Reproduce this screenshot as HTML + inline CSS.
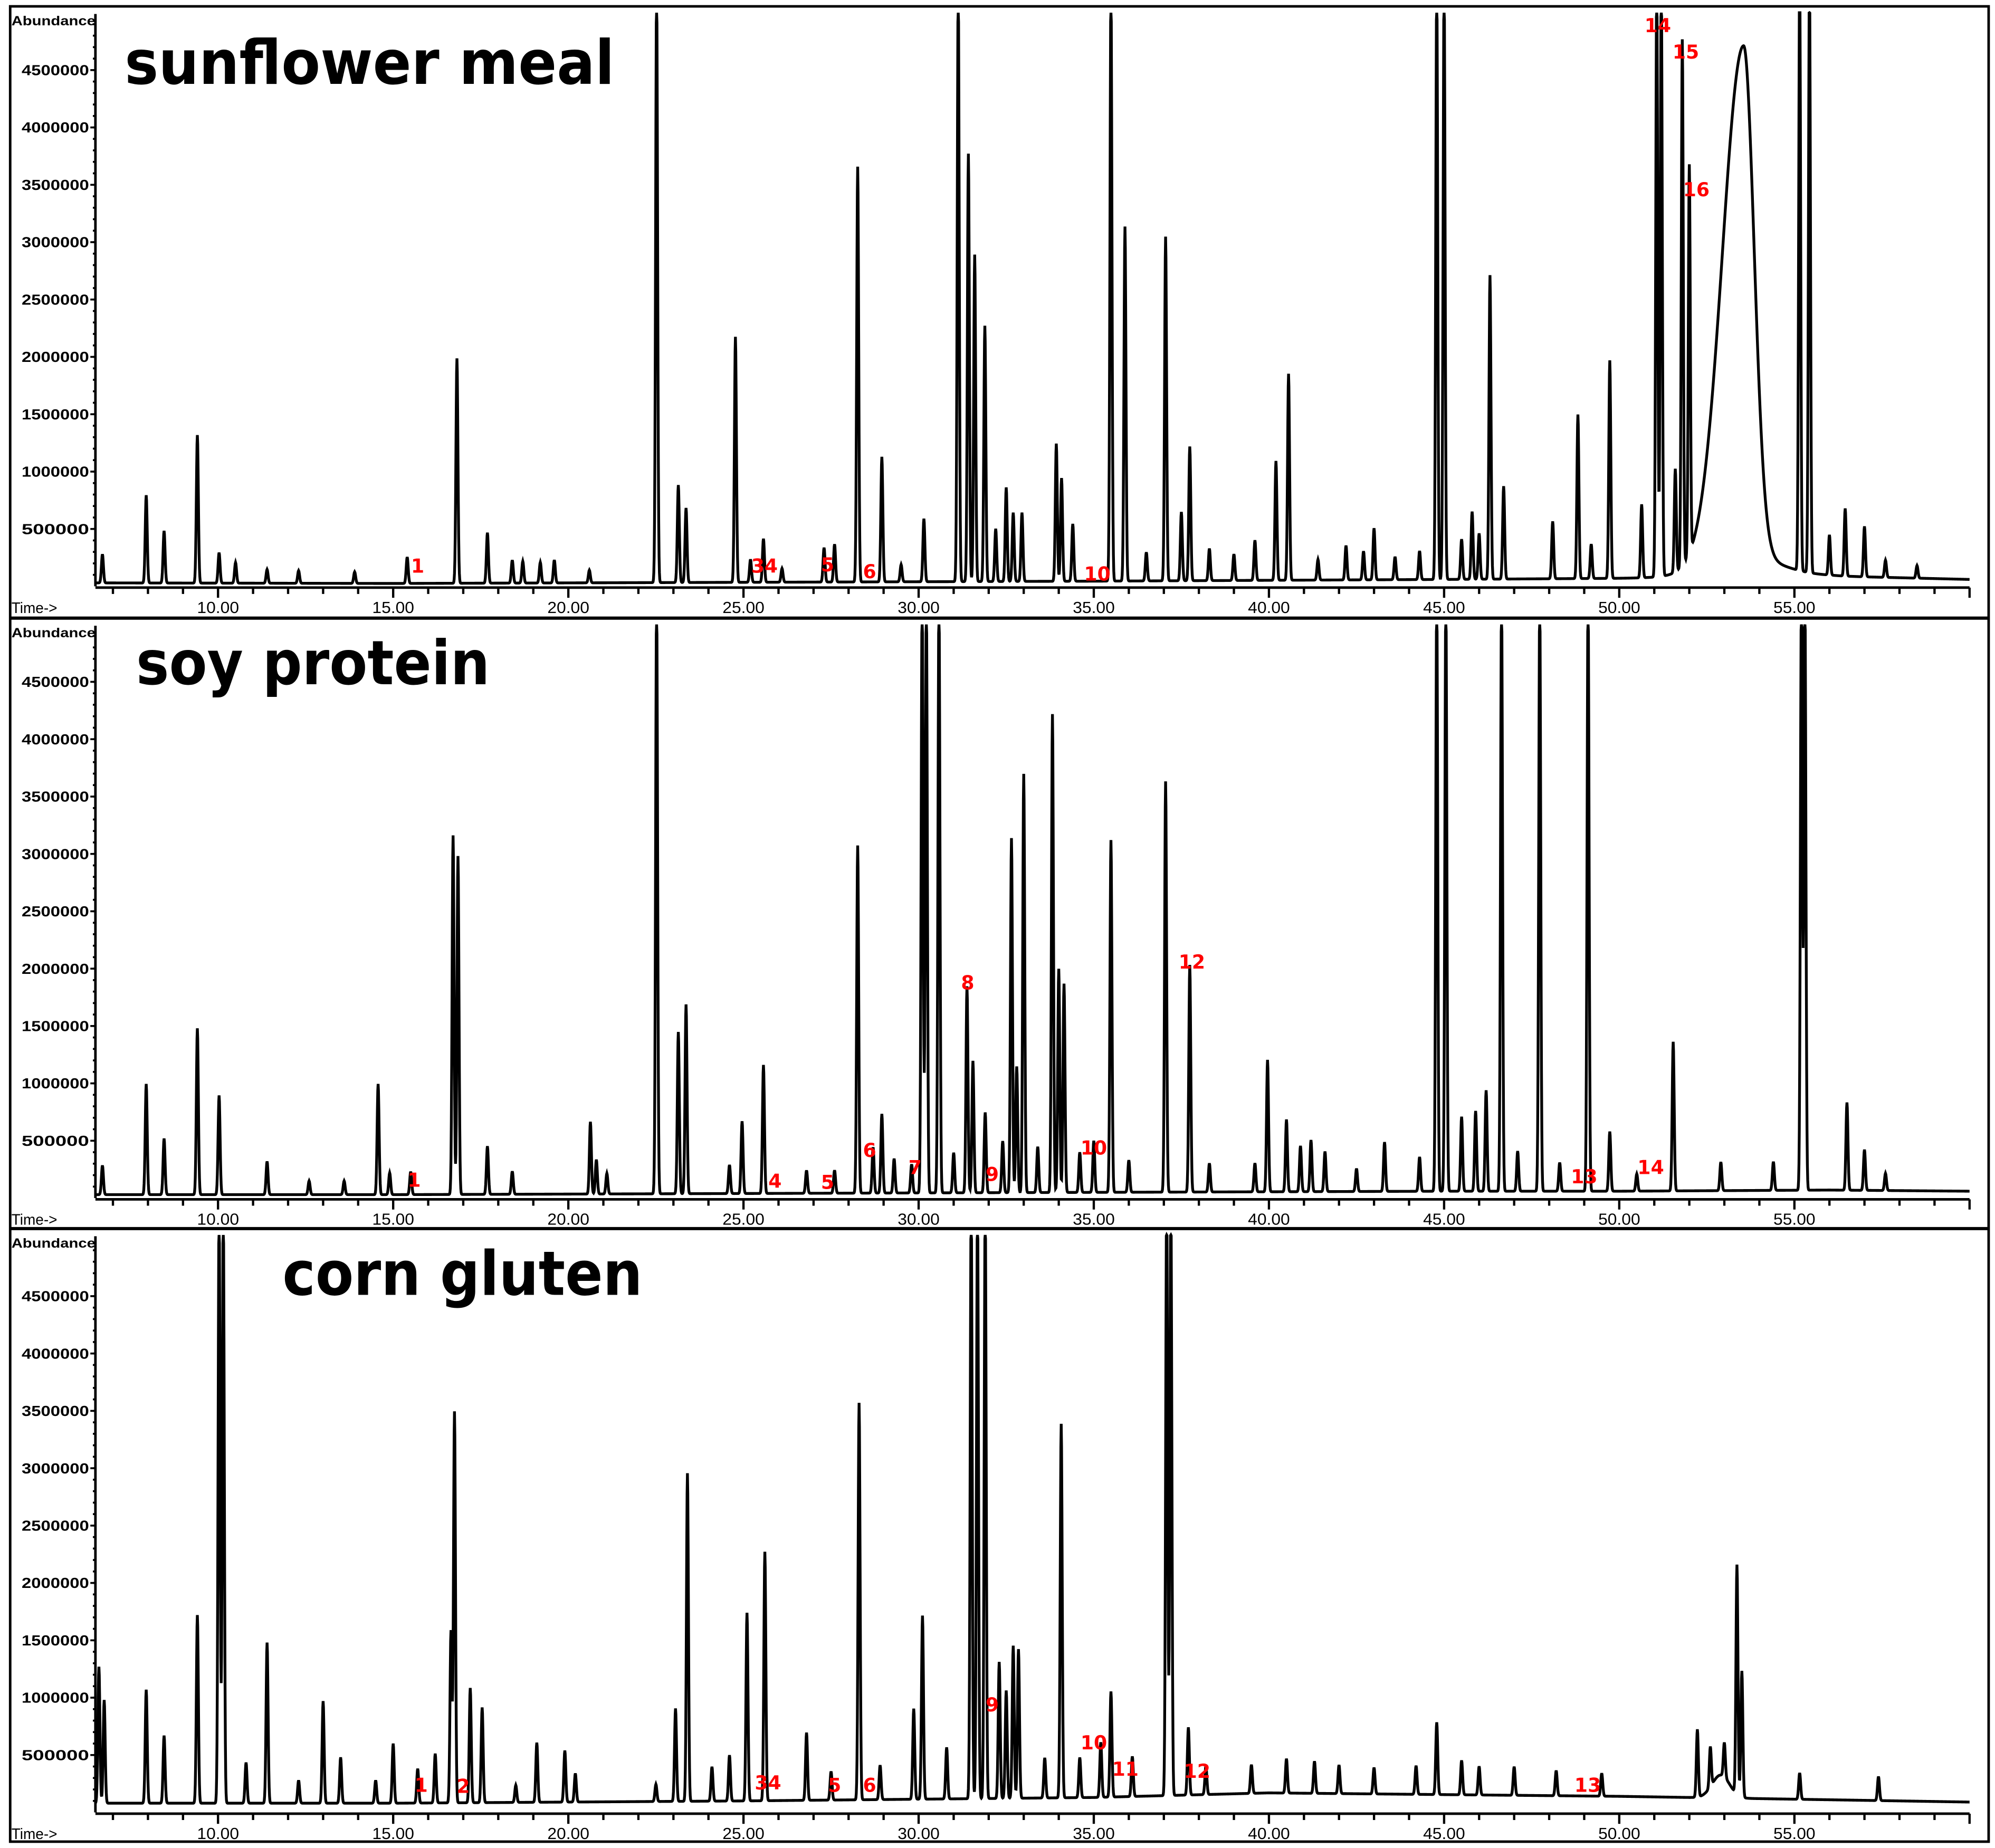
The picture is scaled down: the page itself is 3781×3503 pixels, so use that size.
<!DOCTYPE html>
<html><head><meta charset="utf-8"><style>
html,body{margin:0;padding:0;background:#fff}
svg{display:block}
</style></head><body>
<svg id="chart" xmlns="http://www.w3.org/2000/svg" width="3781" height="3503" viewBox="0 0 1568 1453" preserveAspectRatio="none"></svg>
<script>
// ---- data (time in min, abundance) ----
const xTicks = [10,15,20,25,30,35,40,45,50,55];
const xTickLabels = ["10.00","15.00","20.00","25.00","30.00","35.00","40.00","45.00","50.00","55.00"];
const yTicks = [500000,1000000,1500000,2000000,2500000,3000000,3500000,4000000,4500000];
const yTickLabels = ["500000","1000000","1500000","2000000","2500000","3000000","3500000","4000000","4500000"];
const panelTitles = ["sunflower meal","soy protein","corn gluten"];

// sunflower meal peaks: [time, height]
const sunTimes = [6.7,7.95,8.46,9.41,10.03,10.5,11.4,12.3,13.9,15.4,16.82,17.69,18.4,18.7,19.2,19.6,20.6,22.52,23.14,23.36,24.77,25.2,25.57,26.1,27.3,27.6,28.26,28.95,29.5,30.15,31.13,31.42,31.6,31.89,32.2,32.5,32.7,32.95,33.93,34.08,34.4,35.49,35.89,36.5,37.05,37.5,37.74,38.3,39.0,39.6,40.2,40.56,41.4,42.2,42.7,43.0,43.6,44.3,44.79,45.0,45.5,45.8,46.0,46.31,46.7,48.1,48.82,49.2,49.73,50.64,51.07,51.2,51.6,51.8,52.0,55.15,55.43,56.0,56.45,57.0,57.6,58.5];
const sunHeights = [250000,765000,455000,1290000,266000,180000,120000,110000,100000,230000,1960000,440000,200000,190000,180000,200000,110000,5200000,850000,650000,2140000,200000,380000,120000,300000,330000,3620000,1090000,150000,550000,5200000,3730000,2850000,2230000,460000,820000,600000,600000,1200000,900000,500000,5200000,3090000,250000,3000000,600000,1170000,280000,230000,350000,1040000,1800000,180000,300000,250000,450000,200000,250000,5200000,5200000,350000,590000,400000,2650000,810000,500000,1430000,300000,1900000,640000,5200000,5200000,900000,4590000,3390000,5200000,5200000,350000,590000,440000,150000,110000];
const sunHumpTime = [53.55];
const sunHumpHeight = [4450000];

// soy protein peaks
const soyTimes = [6.7,7.95,8.46,9.41,10.03,11.4,12.6,13.6,14.57,14.9,15.5,16.71,16.85,17.69,18.4,20.63,20.8,21.1,22.52,23.14,23.36,24.6,24.96,25.57,26.8,27.6,28.26,28.7,28.95,29.3,29.8,30.1,30.22,30.58,31.0,31.38,31.55,31.9,32.4,32.65,32.8,33.0,33.4,33.82,34.0,34.15,34.6,35.0,35.49,36.0,37.05,37.74,38.3,39.6,39.96,40.5,40.9,41.2,41.6,42.5,43.3,44.3,44.79,45.05,45.5,45.9,46.2,46.64,47.1,47.73,48.3,49.11,49.73,50.5,51.54,52.9,54.4,55.2,55.3,56.5,57.0,57.6];
const soyHeights = [255000,965000,490000,1450000,865000,290000,120000,120000,965000,190000,200000,3130000,2950000,420000,200000,630000,300000,180000,5200000,1410000,1650000,250000,630000,1120000,200000,200000,3030000,400000,690000,300000,250000,5200000,5200000,5200000,350000,1800000,1150000,700000,450000,3090000,1100000,3650000,400000,4170000,1950000,1820000,350000,450000,3070000,280000,3580000,1980000,250000,250000,1150000,630000,400000,450000,350000,200000,430000,300000,5200000,5200000,650000,700000,880000,5200000,350000,5200000,250000,5200000,520000,150000,1300000,250000,250000,5200000,5200000,765000,355000,150000];

// corn gluten peaks
const cornTimes = [6.6,6.75,7.95,8.46,9.41,10.03,10.15,10.8,11.4,12.3,13.0,13.5,14.5,15.0,15.7,16.2,16.65,16.75,17.2,17.54,18.5,19.1,19.9,20.2,22.5,23.06,23.4,24.1,24.6,25.1,25.61,26.8,27.5,28.3,28.9,29.86,30.11,30.8,31.5,31.68,31.9,32.3,32.5,32.7,32.85,33.6,34.07,34.6,35.2,35.49,36.1,37.08,37.2,37.7,38.2,39.5,40.5,41.3,42.0,43.0,44.2,44.79,45.5,46.0,47.0,48.2,49.5,52.23,52.6,53.0,53.36,53.5,55.15,57.4];
const cornHeights = [1190000,900000,990000,590000,1640000,5200000,5200000,355000,1400000,200000,890000,400000,200000,520000,300000,430000,1500000,3410000,1000000,830000,150000,520000,450000,250000,150000,810000,2860000,300000,400000,1640000,2170000,590000,250000,3460000,300000,790000,1600000,450000,5200000,5200000,5200000,1190000,940000,1330000,1300000,350000,3260000,350000,480000,920000,350000,5200000,5200000,590000,250000,250000,300000,280000,250000,230000,250000,630000,300000,250000,250000,220000,200000,590000,350000,300000,2000000,1100000,230000,210000];

// baselines [time], [abundance]
const sunBaseT = [6.5,15,25,35,45,50,56,60];
const sunBaseV = [30000,25000,35000,45000,60000,70000,90000,60000];
const soyBaseT = [6.5,15,25,35,45,50,56,60];
const soyBaseV = [30000,30000,40000,50000,60000,60000,70000,60000];
const cornBaseT = [6.5,15,25,35,40,50,56,60];
const cornBaseV = [80000,80000,100000,130000,170000,140000,110000,90000];

// red peak annotations
const sunLabels = ["1","34","5","6","10","14","15","16"];
const sunLabelT = [15.7,25.6,27.4,28.6,35.1,51.1,51.9,52.2];
const sunLabelA = [120000,120000,130000,70000,50000,4830000,4600000,3400000];
const soyLabels = ["1","4","5","6","7","8","9","10","12","13","14"];
const soyLabelT = [15.6,25.9,27.4,28.6,29.9,31.4,32.1,35.0,37.8,49.0,50.9];
const soyLabelA = [100000,90000,80000,360000,210000,1820000,150000,380000,2000000,130000,210000];
const cornLabels = ["1","2","34","5","6","9","10","11","12","13"];
const cornLabelT = [15.8,17.0,25.7,27.6,28.6,32.1,35.0,35.9,37.95,49.1];
const cornLabelA = [180000,170000,200000,180000,180000,880000,550000,320000,300000,180000];

// ---- layout ----
const NS = "http://www.w3.org/2000/svg";
const svg = document.getElementById("chart");
const X0 = 75, X1 = 1548, T0 = 6.5, T1 = 60.0;
const PXPERMIN = (X1 - X0) / (T1 - T0);
function xs(t){ return X0 + (t - T0) * PXPERMIN; }
const panels = [
  {top:8, zero:461, sep:486, times:sunTimes, heights:sunHeights, bT:sunBaseT, bV:sunBaseV, labels:sunLabels, lT:sunLabelT, lA:sunLabelA, titleX:98, titleY:66, titleW:385, key:"sunflower-meal"},
  {top:489, zero:942, sep:966, times:soyTimes, heights:soyHeights, bT:soyBaseT, bV:soyBaseV, labels:soyLabels, lT:soyLabelT, lA:soyLabelA, titleX:107, titleY:538, titleW:278, key:"soy-protein"},
  {top:969, zero:1425, sep:1449, times:cornTimes, heights:cornHeights, bT:cornBaseT, bV:cornBaseV, labels:cornLabels, lT:cornLabelT, lA:cornLabelA, titleX:222, titleY:1018, titleW:283, key:"corn-gluten"}
];
const PX_PER_500K = 45.1;
function mk(tag, attrs){ const e = document.createElementNS(NS, tag); for (const k in attrs) e.setAttribute(k, attrs[k]); return e; }
function interp(ts, vs, t){
  if (t <= ts[0]) return vs[0];
  for (let i=1;i<ts.length;i++) if (t <= ts[i]) { const f=(t-ts[i-1])/(ts[i]-ts[i-1]); return vs[i-1]+f*(vs[i]-vs[i-1]); }
  return vs[vs.length-1];
}

const border = mk("rect",{x:8,y:5,width:1555,height:1443,fill:"none",stroke:"#000","stroke-width":2});


svg.appendChild(border);

panels.forEach((p, pi) => {
  const g = mk("g",{});
  
  
  svg.appendChild(g);
  const ys = a => p.zero - a / 500000 * PX_PER_500K;
  const yTop = p.top + 2;

  if (pi < 2) {
    const sep = mk("line",{x1:8,x2:1563,y1:p.sep,y2:p.sep,stroke:"#000","stroke-width":2.5});
    
    
    g.appendChild(sep);
  }
  const ya = mk("line",{x1:X0,x2:X0,y1:p.top+3,y2:p.zero,stroke:"#000","stroke-width":2});
  
  
  g.appendChild(ya);
  for (let a=100000; a<=4900000; a+=100000) {
    const y = ys(a);
    const m = mk("line",{x1:X0-2,x2:X0,y1:y,y2:y,stroke:"#000","stroke-width":1.5});
    
    
    g.appendChild(m);
  }
  yTicks.forEach((a,i) => {
    const y = ys(a);
    const tk = mk("line",{x1:X0-4,x2:X0,y1:y,y2:y,stroke:"#000","stroke-width":1.5});
    
    
    g.appendChild(tk);
    const tx = mk("text",{x:X0-5,y:y+4,"text-anchor":"end","font-family":"Liberation Sans Narrow, Liberation Sans, sans-serif","font-weight":"bold","font-size":11.5,textLength:53,lengthAdjust:"spacingAndGlyphs"});
    tx.textContent = yTickLabels[i];
    
    
    g.appendChild(tx);
  });
  const ab = mk("text",{x:9,y:p.top+12,"font-family":"Liberation Sans, sans-serif","font-weight":"bold","font-size":10.5,textLength:66,lengthAdjust:"spacingAndGlyphs"});
  ab.textContent = "Abundance";
  
  
  g.appendChild(ab);

  const xa = mk("line",{x1:X0,x2:X1,y1:p.zero+1,y2:p.zero+1,stroke:"#000","stroke-width":2});
  
  
  g.appendChild(xa);
  for (let t=7; t<=60; t++) {
    const major = t % 5 === 0;
    const tk = mk("line",{x1:xs(t),x2:xs(t),y1:p.zero+1,y2:p.zero+(major?9:6),stroke:"#000","stroke-width":1.8});
    
    
    g.appendChild(tk);
  }
  xTicks.forEach((t,i) => {
    const tx = mk("text",{x:xs(t),y:p.zero+21,"text-anchor":"middle","font-family":"Liberation Sans Narrow, Liberation Sans, sans-serif","font-size":12.5,textLength:33,lengthAdjust:"spacingAndGlyphs"});
    tx.textContent = xTickLabels[i];
    
    
    g.appendChild(tx);
  });
  const tl = mk("text",{x:9,y:p.zero+21,"font-family":"Liberation Sans, sans-serif","font-size":12,textLength:36,lengthAdjust:"spacingAndGlyphs"});
  tl.textContent = "Time->";
  
  
  g.appendChild(tl);

  const sigma = 0.028;
  let d = "";
  for (let t=T0; t<=T1+1e-9; t+=0.01) {
    let a = interp(p.bT, p.bV, t);
    for (let i=0;i<p.times.length;i++) {
      const dt = t - p.times[i];
      if (Math.abs(dt) < 0.2) a += p.heights[i] * Math.exp(-dt*dt/(2*sigma*sigma));
    }
    if (pi === 0) {
      const dt = t - sunHumpTime[0];
      const s = dt < 0 ? 0.6 : 0.3;
      a += sunHumpHeight[0] * Math.exp(-dt*dt/(2*s*s));
      a += 180000 * Math.exp(-dt*dt/(2*1.0*1.0));
    }
    if (pi === 2) {
      const dt = t - 52.9;
      a += 200000 * Math.exp(-dt*dt/(2*0.25*0.25));
    }
    const y = Math.max(ys(a), yTop);
    d += (d ? "L" : "M") + xs(t).toFixed(2) + "," + y.toFixed(2);
  }
  const tr = mk("path",{d:d,fill:"none",stroke:"#000","stroke-width":2.2,"stroke-linejoin":"miter"});
  
  
  g.appendChild(tr);

  const ti = mk("text",{x:p.titleX,y:p.titleY,"font-family":"DejaVu Sans, Liberation Sans, sans-serif","font-weight":"bold","font-size":48,textLength:p.titleW,lengthAdjust:"spacingAndGlyphs"});
  ti.textContent = panelTitles[pi];
  
  
  g.appendChild(ti);

  p.labels.forEach((lb,i) => {
    const tx = mk("text",{x:xs(p.lT[i]),y:ys(p.lA[i]),"text-anchor":"middle","font-family":"DejaVu Sans, Liberation Sans, sans-serif","font-weight":"bold","font-size":15,fill:"#ff0000"});
    tx.textContent = lb;
    
    
    g.appendChild(tx);
  });
});
</script>
</body></html>
